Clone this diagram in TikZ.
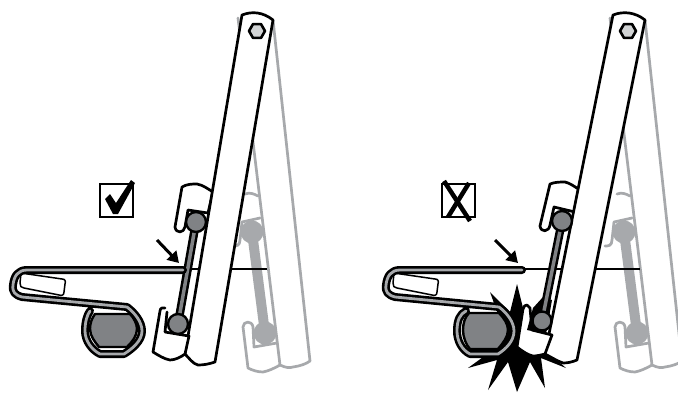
\documentclass[tikz,border=0pt]{standalone}
\usetikzlibrary{arrows.meta}
\definecolor{pingray}{HTML}{808285}
\definecolor{ghost}{HTML}{A7A9AC}
\definecolor{hexgray}{HTML}{D1D3D4}
\tikzset{
 ink/.style={draw=black,line width=2.7pt,line join=round,line cap=round,fill=white},
 ghostline/.style={draw=ghost,line width=2.7pt,line join=round,line cap=round},
 pointer/.style={draw=black,line width=3pt,-{Triangle[length=11pt,width=13pt]}},
 springout/.style={draw=black,line width=8pt,line join=round,line cap=round},
 springin/.style={draw=ghost,line width=2.8pt,line join=round,line cap=round},
 pin/.style={draw=black,line width=2.4pt,fill=pingray},
}
\newcommand{\ghostarm}[1]{%
 \begin{scope}[xshift=#1]
 \draw[ghostline] (238,18) -- (280,365) .. controls (286,368) and (290,368) .. (293,367) .. controls (300,366) and (306,364) .. (310,361) -- (273,20);
 \draw[ghostline] (245,194) .. controls (250,192) and (254,194) .. (258,196);
 \draw[ghostline] (242,222) -- (260,218);
 \draw[ghostline] (242,222) -- (240,240) .. controls (240,246) and (236,246) .. (233,246);
 \draw[ghostline] (280,365) .. controls (273,369) and (268,371) .. (263,372) .. controls (257,372) and (252,370) .. (248,368) -- (243,327) .. controls (243,321) and (252,320) .. (253,327) -- (254,347) -- (277,343);
 \draw[draw=ghost,line width=10pt] (252,232) -- (265,333);
 \fill[ghost] (252,232) circle (11.5) (265,333) circle (11.5);
 \end{scope}}
\begin{document}
\begin{tikzpicture}[x=1pt,y=-1pt]
\useasboundingbox[fill=white] (0,0) rectangle (678,392);
% ---- ghost arms
\ghostarm{0}
\begin{scope}
\clip (0,0) rectangle (678,392);
\ghostarm{372}
\end{scope}
% ---- left panel
\draw[line width=1.9pt] (183,269) -- (267,269);
\draw[ink] (182,187) .. controls (187,184) and (192,184) .. (197,184) .. controls (203,185) and (208,189) .. (213,192) -- (208,213) -- (188,210) -- (185,227) .. controls (184,233) and (176,234) .. (175,227) -- cycle;
\draw[ink] (242,15) .. controls (252,11) and (263,12) .. (273,20) -- (215,362) .. controls (209,364) and (204,365) .. (198,365) .. controls (193,364) and (189,358) .. (185,354) -- cycle;
\draw[ink] (165,308) .. controls (163,307) and (160,308) .. (160,311) -- (153,352) .. controls (158,355) and (164,359) .. (170,360) .. controls (175,360) and (181,357) .. (185,354) -- (189,336) -- (165,332) -- (167,312);
\draw[black,line width=8.5pt] (196,222) -- (178,324);
\draw[pingray,line width=3.5pt] (196,222) -- (178,324);
\node[pin,circle,minimum size=20pt,inner sep=0pt] (pinA) at (196,222) {};
\node[pin,circle,minimum size=20pt,inner sep=0pt] (pinB) at (178,324) {};
\draw[line width=1.5pt,line join=round,fill=white] (21,273) -- (62,279) .. controls (65,279) and (66,281) .. (65,284) -- (64,292) .. controls (64,295) and (62,296) .. (59,295) -- (24,288) .. controls (21,288) and (20,286) .. (20,283) -- cycle;
\def\leverL{(183,270) -- (27,270) .. controls (18,270) and (14,276) .. (13,285) .. controls (12,292) and (15,295) .. (22,297) -- (127,307) .. controls (135,313) and (142,322) .. (142,331) .. controls (142,341) and (132,349) .. (124,354) -- (100,354) .. controls (92,350) and (85,341) .. (85,331) .. controls (85,322) and (87,315) .. (90,311)}
\draw[springout] \leverL;
\draw[springin] \leverL;
\draw[black,line width=2.4pt,fill=pingray,line join=round] (95,314) -- (130,314) .. controls (134,318) and (137,324) .. (137,329) .. controls (137,336) and (132,342) .. (127,347) -- (99,347) .. controls (95,342) and (90,336) .. (90,329) .. controls (90,323) and (92,318) .. (95,314) -- cycle;
\coordinate (ptrA1) at (157,240);
\coordinate (ptrA2) at (179,263);
\draw[pointer] (ptrA1) -- (ptrA2);
\draw[black,line width=2.6pt] (100,184) rectangle (133,217);
\fill[black] (105,199) -- (110,194) -- (116,203) -- (131,180) -- (135,183) -- (118,214) -- (113,214) -- cycle;
% ---- right panel
\draw[line width=1.9pt] (522,269) -- (640,269);
\fill[black] (517,284) -- (524,312) -- (545,350) -- (566,368) -- (541,358) -- (545,388) -- (530,362) -- (517,392) -- (508,362) -- (488,390) -- (497,360) -- (468,368) -- (490,352) -- (500,320) -- (490,292) -- (510,312) -- cycle;
\draw[ink] (550,184) .. controls (555,182) and (560,182) .. (565,182) .. controls (570,183) and (575,187) .. (580,190) -- (575,212) -- (554,207) -- (550,225) .. controls (549,232) and (541,233) .. (540,226) -- cycle;
\draw[ink] (613,15) .. controls (623,11) and (635,12) .. (645,20) -- (577,360) .. controls (572,362) and (568,363) .. (563,363) .. controls (557,361) and (551,357) .. (545,354) -- cycle;
\draw[ink] (527,305) .. controls (525,305) and (524,306) .. (523,309) -- (517,347) .. controls (522,351) and (528,355) .. (533,356) .. controls (537,356) and (541,355) .. (545,354) -- (552,335) -- (532,330) -- (530,308) -- cycle;
\fill[black] (543,297) -- (533,308) -- (527,330) -- (546,334) -- (552,300) -- cycle;
\draw[black,line width=8.5pt] (562,221) -- (542,321);
\draw[pingray,line width=3.5pt] (562,221) -- (542,321);
\node[pin,circle,minimum size=20pt,inner sep=0pt] (pinC) at (562,221) {};
\node[pin,circle,minimum size=19pt,inner sep=0pt] (pinD) at (542,321) {};
\draw[line width=1.5pt,line join=round,fill=white] (394,273) -- (435,279) .. controls (438,279) and (439,281) .. (438,284) -- (437,292) .. controls (437,295) and (435,296) .. (432,295) -- (397,288) .. controls (394,288) and (393,286) .. (393,283) -- cycle;
\def\leverR{(522,270) -- (400,270) .. controls (391,270) and (387,276) .. (386,285) .. controls (385,292) and (388,295) .. (395,297) -- (499,307) .. controls (507,313) and (514,322) .. (514,331) .. controls (514,341) and (506,349) .. (498,354) -- (470,354) .. controls (462,350) and (457,341) .. (457,331) .. controls (457,320) and (460,314) .. (466,311)}
\draw[springout] \leverR;
\draw[springin] \leverR;
\draw[black,line width=2.4pt,fill=pingray,line join=round] (469,313) -- (499,313) .. controls (504,318) and (508,324) .. (508,330) .. controls (508,337) and (503,343) .. (498,349) -- (470,349) .. controls (466,345) and (463,337) .. (463,330) .. controls (463,323) and (465,317) .. (469,313) -- cycle;
\coordinate (ptrB1) at (495,240);
\coordinate (ptrB2) at (518,263);
\draw[pointer] (ptrB1) -- (ptrB2);
\draw[black,line width=2.6pt] (442,184) rectangle (475,217);
\draw[black,line width=4.5pt] (444,181) -- (470,221);
\draw[black,line width=4.5pt] (469,183) -- (448,217);
% ---- hexagon bolts
\foreach \hx/\hy in {257/31,628/31}{
 \draw[black,line width=2.6pt,fill=hexgray,line join=round] (\hx,\hy) +(0:8) -- +(60:8) -- +(120:8) -- +(180:8) -- +(240:8) -- +(300:8) -- cycle;
}
\end{tikzpicture}
\end{document}
